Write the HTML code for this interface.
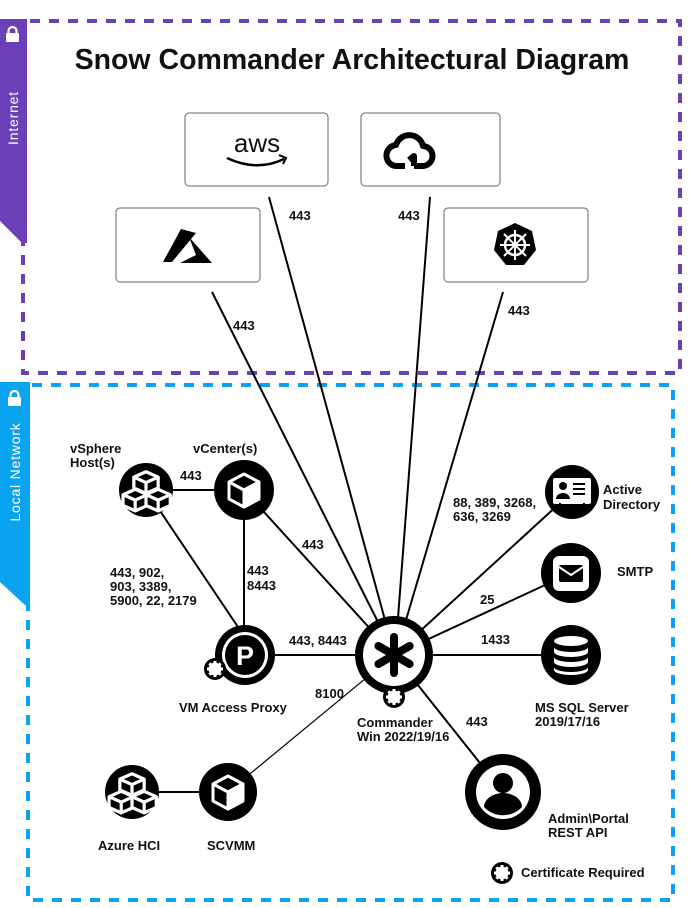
<!DOCTYPE html>
<html><head><meta charset="utf-8"><style>
html,body{margin:0;padding:0;background:#fff;}
svg{display:block;}
text{font-family:"Liberation Sans",sans-serif;font-weight:bold;fill:#111;}
</style></head><body>
<svg width="696" height="908" viewBox="0 0 696 908" xmlns="http://www.w3.org/2000/svg">
<defs>
<g id="gear"><circle r="11" fill="#000"/><circle r="6.5" fill="#fff"/>
<g fill="#fff"><rect x="-1.5" y="-8" width="3" height="16"/><rect x="-8" y="-1.5" width="16" height="3"/><rect x="-1.5" y="-8" width="3" height="16" transform="rotate(45)"/><rect x="-1.5" y="-8" width="3" height="16" transform="rotate(-45)"/></g></g>
<g id="cube" fill="none" stroke="#fff" stroke-width="3" stroke-linejoin="round"><path d="M0,-15 L15,-7 L15,10 L0,18 L-15,10 L-15,-7 Z"/><path d="M-15,-7 L0,1 L15,-7 M0,1 L0,18"/><path d="M0,1 L15,-7 L15,10 L0,18 Z" fill="#fff"/></g>
<g id="blocks" fill="#000" stroke="#fff" stroke-width="2.4" stroke-linejoin="round" transform="scale(1.35)">
<g transform="translate(0,-8)"><path d="M0,-7 L9,-3 L9,5 L0,9 L-9,5 L-9,-3 Z"/><path d="M-9,-3 L0,1 L9,-3 M0,1 L0,9"/></g>
<g transform="translate(-8,5)"><path d="M0,-7 L9,-3 L9,5 L0,9 L-9,5 L-9,-3 Z"/><path d="M-9,-3 L0,1 L9,-3 M0,1 L0,9"/></g>
<g transform="translate(9,5)"><path d="M0,-7 L9,-3 L9,5 L0,9 L-9,5 L-9,-3 Z"/><path d="M-9,-3 L0,1 L9,-3 M0,1 L0,9"/></g></g>
</defs>

<g stroke="#6a3fb8" stroke-width="4" stroke-dasharray="10 9" fill="none">
<path d="M30,21 L680,21 L680,373 L23,373 L23,243"/>
</g>
<path d="M0,19 L27,19 L27,243 L22,243 L0,221 Z" fill="#6a3fb8"/>
<g fill="#fff"><rect x="6" y="33" width="13" height="9" rx="1"/><path d="M8.5,34 V31 a4,4 0 0 1 8,0 V34" fill="none" stroke="#fff" stroke-width="2.2"/></g>
<text transform="translate(18,118) rotate(-90)" style="font-size:14px;font-weight:normal;fill:#fff;letter-spacing:0.8px" text-anchor="middle">Internet</text>

<g stroke="#0aa3ef" stroke-width="4" stroke-dasharray="10 9" fill="none">
<path d="M32,385 L673,385 L673,900 L28,900 L28,605"/>
</g>
<path d="M0,382 L30,382 L30,606 L26,606 L0,582 Z" fill="#0aa3ef"/>
<g fill="#fff"><rect x="8" y="397" width="13" height="9" rx="1"/><path d="M10.5,398 V395 a4,4 0 0 1 8,0 V398" fill="none" stroke="#fff" stroke-width="2.2"/></g>
<text transform="translate(20,472) rotate(-90)" style="font-size:14px;font-weight:normal;fill:#fff;letter-spacing:0.8px" text-anchor="middle">Local Network</text>

<text x="352" y="69" text-anchor="middle" style="font-size:28.5px">Snow Commander Architectural Diagram</text>

<g fill="#fff" stroke="#666" stroke-width="1"><rect x="185" y="113" width="143" height="73" rx="4"/><rect x="361" y="113" width="139" height="73" rx="4"/><rect x="116" y="208" width="144" height="74" rx="4"/><rect x="444" y="208" width="144" height="74" rx="4"/></g>
<text x="257" y="152" text-anchor="middle" style="font-size:26px;font-weight:normal">aws</text>
<path d="M227,158 Q257,172 284,159" fill="none" stroke="#000" stroke-width="2.5"/><path d="M279,155 L286,158 L283,164" fill="none" stroke="#000" stroke-width="2"/>
<path d="M414,166 H422 a10,10 0 0 0 1,-20 a14,14 0 0 0 -27,-1 a10,10 0 0 0 2,21 H405 M414,166 V156 l-5,4" fill="none" stroke="#000" stroke-width="6" stroke-linejoin="round"/>
<path d="M181,229 L196,233 L172,262 L163,262 Z M189,237 L212,263 L180,263 L196,255 Z" fill="#000"/>
<g transform="translate(515,245)"><path d="M0,-22 L17,-14 L21,5 L9,20 L-9,20 L-21,5 L-17,-14 Z" fill="#000"/><circle r="10" fill="none" stroke="#fff" stroke-width="2.5"/><g stroke="#fff" stroke-width="2"><path d="M0,-15 V15 M-15,0 H15 M-11,-11 L11,11 M-11,11 L11,-11"/></g><circle r="2.5" fill="#fff"/></g>

<g stroke="#000" stroke-width="2" fill="none">
<line x1="269" y1="197" x2="385" y2="620"/>
<line x1="430" y1="197" x2="398" y2="618"/>
<line x1="212" y1="292" x2="378" y2="622"/>
<line x1="503" y1="292" x2="406" y2="620"/>
<line x1="146" y1="490" x2="244" y2="490"/>
<line x1="146" y1="490" x2="240" y2="630"/>
<line x1="244" y1="490" x2="244" y2="630"/>
<line x1="244" y1="490" x2="394" y2="655"/>
<line x1="245" y1="655" x2="394" y2="655"/>
<line x1="394" y1="655" x2="572" y2="492"/>
<line x1="394" y1="655" x2="571" y2="573"/>
<line x1="394" y1="655" x2="571" y2="655"/>
<line x1="394" y1="655" x2="503" y2="792"/>
<line x1="132" y1="792" x2="228" y2="792"/>
</g>
<line x1="394" y1="655" x2="228" y2="792" stroke="#000" stroke-width="1.2"/>

<g style="font-size:13px">
<text x="289" y="220">443</text>
<text x="398" y="220">443</text>
<text x="233" y="330">443</text>
<text x="508" y="315">443</text>
<text x="180" y="480">443</text>
<text x="302" y="549">443</text>
<text x="110" y="577">443, 902,</text>
<text x="110" y="591">903, 3389,</text>
<text x="110" y="605">5900, 22, 2179</text>
<text x="247" y="575">443</text>
<text x="247" y="590">8443</text>
<text x="289" y="645">443, 8443</text>
<text x="315" y="698">8100</text>
<text x="453" y="507">88, 389, 3268,</text>
<text x="453" y="521">636, 3269</text>
<text x="480" y="604">25</text>
<text x="481" y="644">1433</text>
<text x="466" y="726">443</text>
<text x="70" y="453">vSphere</text>
<text x="70" y="467">Host(s)</text>
<text x="193" y="453">vCenter(s)</text>
<text x="179" y="712">VM Access Proxy</text>
<text x="357" y="727">Commander</text>
<text x="357" y="741">Win 2022/19/16</text>
<text x="603" y="494">Active</text>
<text x="603" y="509">Directory</text>
<text x="617" y="576">SMTP</text>
<text x="535" y="712">MS SQL Server</text>
<text x="535" y="726">2019/17/16</text>
<text x="548" y="823">Admin\Portal</text>
<text x="548" y="837">REST API</text>
<text x="98" y="850">Azure HCI</text>
<text x="207" y="850">SCVMM</text>
<text x="521" y="877">Certificate Required</text>
</g>

<circle cx="146" cy="490" r="27" fill="#000"/><use href="#blocks" x="146" y="492"/>
<circle cx="244" cy="490" r="30" fill="#000"/><use href="#cube" x="244" y="489"/>
<circle cx="245" cy="655" r="30" fill="#000"/><circle cx="245" cy="655" r="23" fill="#fff"/><circle cx="245" cy="655" r="20" fill="#000"/>
<text x="245" y="665" text-anchor="middle" style="font-size:27px;fill:#fff">P</text>
<use href="#gear" x="215" y="669"/>
<circle cx="394" cy="655" r="39" fill="#000"/><circle cx="394" cy="655" r="31" fill="#fff"/>
<g stroke="#000" stroke-width="8" stroke-linecap="round"><line x1="394" y1="637" x2="394" y2="673"/><line x1="378.4" y1="646" x2="409.6" y2="664"/><line x1="378.4" y1="664" x2="409.6" y2="646"/></g>
<use href="#gear" x="394" y="697"/>
<circle cx="572" cy="492" r="27" fill="#000"/><rect x="553" y="478" width="38" height="26" rx="2" fill="#fff"/>
<circle cx="563" cy="486" r="4" fill="#000"/><path d="M556,499 a7,6 0 0 1 14,0 Z" fill="#000"/><g stroke="#000" stroke-width="2"><line x1="573" y1="484" x2="585" y2="484"/><line x1="573" y1="489" x2="585" y2="489"/><line x1="573" y1="494" x2="585" y2="494"/><line x1="560" y1="503" x2="560" y2="506"/><line x1="584" y1="503" x2="584" y2="506"/></g>
<circle cx="571" cy="573" r="30" fill="#000"/><rect x="553" y="556" width="36" height="35" rx="6" fill="#fff"/><rect x="559" y="565" width="24" height="17" rx="2" fill="#000"/><path d="M559,567 L571,575 L583,567" fill="none" stroke="#fff" stroke-width="2"/>
<circle cx="571" cy="655" r="30" fill="#000"/>
<g fill="#fff"><ellipse cx="571" cy="641" rx="17" ry="5"/><path d="M554,647 a17,5 0 0 0 34,0 v5 a17,5 0 0 1 -34,0 Z"/><path d="M554,657 a17,5 0 0 0 34,0 v5 a17,5 0 0 1 -34,0 Z"/><path d="M554,667 a17,5 0 0 0 34,0 v3 a17,5 0 0 1 -34,0 Z"/></g>
<circle cx="503" cy="792" r="38" fill="#000"/><circle cx="503" cy="792" r="27" fill="#fff"/><circle cx="503" cy="783" r="10" fill="#000"/><path d="M484,807 a19,14 0 0 1 38,0 a26,26 0 0 1 -38,0 Z" fill="#000"/>
<circle cx="228" cy="792" r="29" fill="#000"/><use href="#cube" x="228" y="791"/>
<circle cx="132" cy="792" r="27" fill="#000"/><use href="#blocks" x="132" y="794"/>
<use href="#gear" x="502" y="873"/>
</svg>
</body></html>
